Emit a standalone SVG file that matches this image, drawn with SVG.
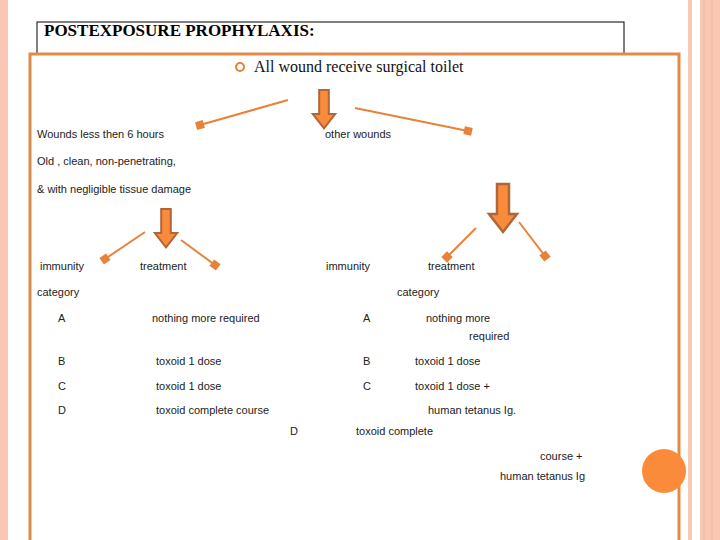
<svg xmlns="http://www.w3.org/2000/svg" width="720" height="540" viewBox="0 0 720 540">
<defs>
<marker id="m" markerWidth="6" markerHeight="6" refX="3" refY="3" orient="auto"><rect x="1" y="1" width="4" height="4" fill="#e8823a"/></marker>
<symbol id="blk" viewBox="0 0 30 50" overflow="visible"><path d="M9,0 H21 V30 H29 L15,48 L1,30 H9 Z" fill="#f98b3a" stroke="#b0653a" stroke-width="2.5"/></symbol>
</defs>
<style>
.t{font-family:"Liberation Sans",sans-serif;font-size:11px;fill:#222}
.c{stroke:#e8823a;stroke-width:2;fill:none}
</style>
<rect width="720" height="540" fill="#fff"/>
<rect x="0" y="0" width="8" height="540" fill="#f9c8b5"/>
<rect x="688" y="0" width="4" height="540" fill="#f9c8b5"/>
<rect x="700" y="0" width="20" height="540" fill="#f9c8b5"/>
<line x1="704" y1="0" x2="704" y2="540" stroke="#f4b59c" stroke-width="1"/>
<line x1="712" y1="0" x2="712" y2="540" stroke="#f4b59c" stroke-width="1"/>
<g id="title"><rect x="37" y="22" width="587" height="33" fill="#fff" stroke="#000"/>
<text x="44" y="36" font-family="Liberation Serif,serif" font-weight="bold" font-size="17" fill="#000">POSTEXPOSURE PROPHYLAXIS:</text></g>
<rect x="30" y="54" width="649" height="490" fill="#fff" stroke="#e08b4a" stroke-width="3"/>
<g id="top"><circle cx="240" cy="67" r="4" fill="none" stroke="#e8823a" stroke-width="2"/>
<text x="254" y="72" font-family="Liberation Serif,serif" font-size="16" fill="#111">All wound receive surgical toilet</text></g>
<g id="connectors">
<use href="#blk" x="311" y="90" width="26" height="40"/>
<use href="#blk" x="151" y="209" width="30" height="40"/>
<use href="#blk" x="488" y="184" width="30" height="50"/>
<line class="c" x1="288" y1="100" x2="200" y2="125" marker-end="url(#m)"/>
<line class="c" x1="355" y1="108" x2="468" y2="131" marker-end="url(#m)"/>
<line class="c" x1="145" y1="232" x2="105" y2="259" marker-end="url(#m)"/>
<line class="c" x1="181" y1="240" x2="215" y2="265" marker-end="url(#m)"/>
<line class="c" x1="476" y1="228" x2="447" y2="257" marker-end="url(#m)"/>
<line class="c" x1="519" y1="222" x2="545" y2="256" marker-end="url(#m)"/>
</g>
<g id="left">
<text class="t" x="37" y="138">Wounds less then 6 hours</text>
<text class="t" x="37" y="165">Old , clean, non-penetrating,</text>
<text class="t" x="37" y="193">&amp; with negligible tissue damage</text>
<text class="t" x="40" y="270">immunity</text>
<text class="t" x="140" y="270">treatment</text>
<text class="t" x="37" y="296">category</text>
<text class="t" x="58" y="322">A</text><text class="t" x="152" y="322">nothing more required</text>
<text class="t" x="58" y="365">B</text><text class="t" x="156" y="365">toxoid 1 dose</text>
<text class="t" x="58" y="390">C</text><text class="t" x="156" y="390">toxoid 1 dose</text>
<text class="t" x="58" y="414">D</text><text class="t" x="156" y="414">toxoid complete course</text>
</g>
<g id="right">
<text class="t" x="325" y="138">other wounds</text>
<text class="t" x="326" y="270">immunity</text>
<text class="t" x="428" y="270">treatment</text>
<text class="t" x="397" y="296">category</text>
<text class="t" x="363" y="322">A</text><text class="t" x="426" y="322">nothing  more</text>
<text class="t" x="469" y="340">required</text>
<text class="t" x="363" y="365">B</text><text class="t" x="415" y="365">toxoid 1 dose</text>
<text class="t" x="363" y="390">C</text><text class="t" x="415" y="390">toxoid 1 dose +</text>
<text class="t" x="428" y="414">human tetanus Ig.</text>
<text class="t" x="290" y="435">D</text><text class="t" x="356" y="435">toxoid complete</text>
<text class="t" x="540" y="460">course  +</text>
<text class="t" x="500" y="480">human tetanus Ig</text>
</g>
<circle cx="664" cy="471" r="22" fill="#f98b3a"/>
</svg>
